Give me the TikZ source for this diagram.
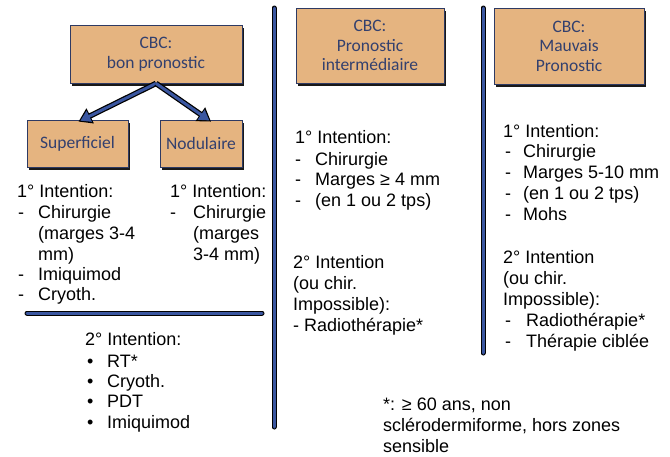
\documentclass[tikz,border=0pt]{standalone}
\usepackage{fontspec}
\setmainfont{Liberation Sans}
\newfontfamily\titlefont{Carlito}
\usetikzlibrary{arrows.meta,shadows}
\definecolor{boxfill}{HTML}{E5B480}
\definecolor{boxline}{HTML}{2E3A63}
\definecolor{titlecol}{HTML}{33406E}
\definecolor{barblue}{HTML}{3A56A0}
\tikzset{
 titlebox/.style={draw=boxline, line width=0.8pt, fill=boxfill, inner sep=0pt, align=center,
   font=\titlefont\fontsize{17.5}{19.5}\selectfont, text=titlecol,
   drop shadow={shadow xshift=2pt, shadow yshift=-2.5pt, fill=black, opacity=0.9}},
 txt/.style={anchor=base west, inner sep=0pt, font=\fontsize{18}{21}\selectfont},
 barout/.style={line width=5pt, black, line cap=round},
 barin/.style={line width=3pt, barblue, line cap=round},
 arrout/.style={line width=5.5pt, black, -{Triangle[length=13pt,width=16pt]}},
 arrin/.style={line width=3pt, barblue, shorten >=2pt, -{Triangle[length=10pt,width=11.5pt]}},
}
\begin{document}
\begin{tikzpicture}[x=1pt,y=-1pt]
\useasboundingbox (0,0) rectangle (670,456);
% boxes
\node[titlebox, minimum width=172pt, minimum height=58pt] (top) at (156,54) {CBC:\\bon pronostic};
\node[titlebox, minimum width=101pt, minimum height=47pt] (sup) at (77.5,143.5) {Superficiel};
\node[titlebox, minimum width=82pt, minimum height=47pt] (nod) at (201,143.5) {Nodulaire};
\node[titlebox, minimum width=148pt, minimum height=75pt] (mid) at (370,45.5) {CBC:\\Pronostic\\intermédiaire};
\node[titlebox, minimum width=150pt, minimum height=76pt] (bad) at (569,46) {CBC:\\Mauvais\\Pronostic};
% arrows
\draw[arrout] (top.south) -- ([xshift=1pt,yshift=-2pt]sup.north);
\draw[arrin] (top.south) -- ([xshift=1pt,yshift=-2pt]sup.north);
\draw[arrout] (top.south) -- ([xshift=10pt,yshift=-2pt]nod.north);
\draw[arrin] (top.south) -- ([xshift=10pt,yshift=-2pt]nod.north);
% separators
\coordinate (h1) at (27,313); \coordinate (h2) at (262,313);
\coordinate (v1a) at (274,8); \coordinate (v1b) at (274,427);
\coordinate (v2a) at (483,8); \coordinate (v2b) at (483,353);
\draw[barout] (h1) -- (h2); \draw[barin] (h1) -- (h2);
\draw[barout] (v1a) -- (v1b); \draw[barin] (v1a) -- (v1b);
\draw[barout] (v2a) -- (v2b); \draw[barin] (v2a) -- (v2b);
% left column
\node[txt] (a1) at (17,197) {1° Intention:};
\node[txt] (a2d) at (18,218) {-}; \node[txt] (a2) at (38,218) {Chirurgie};
\node[txt] (a3) at (38,239) {(marges 3-4};
\node[txt] (a4) at (38,260) {mm)};
\node[txt] (a5d) at (18,280) {-}; \node[txt] (a5) at (38,280) {Imiquimod};
\node[txt] (a6d) at (18,300) {-}; \node[txt] (a6) at (38,300) {Cryoth.};
% nodulaire column
\node[txt] (b1) at (170,197) {1° Intention:};
\node[txt] (b2d) at (170,218) {-}; \node[txt] (b2) at (193,218) {Chirurgie};
\node[txt] (b3) at (193,239) {(marges};
\node[txt] (b4) at (193,260) {3-4 mm)};
% second intention left
\node[txt] (c1) at (85,345) {2° Intention:};
\node[txt] (c2d) at (87,367) {•}; \node[txt] (c2) at (107,367) {RT*};
\node[txt] (c3d) at (87,387) {•}; \node[txt] (c3) at (107,387) {Cryoth.};
\node[txt] (c4d) at (87,407) {•}; \node[txt] (c4) at (107,407) {PDT};
\node[txt] (c5d) at (87,428) {•}; \node[txt] (c5) at (107,428) {Imiquimod};
% middle column
\node[txt] (d1) at (295,143) {1° Intention:};
\node[txt] (d2d) at (295,165) {-}; \node[txt] (d2) at (315,165) {Chirurgie};
\node[txt] (d3d) at (295,185) {-}; \node[txt] (d3) at (315,185) {Marges ≥ 4 mm};
\node[txt] (d4d) at (295,206) {-}; \node[txt] (d4) at (315,206) {(en 1 ou 2 tps)};
\node[txt] (d5) at (293,268) {2° Intention};
\node[txt] (d6) at (293,289) {(ou chir.};
\node[txt] (d7) at (293,310) {Impossible):};
\node[txt] (d8) at (293,331) {- Radiothérapie*};
% right column
\node[txt] (e1) at (503,137) {1° Intention:};
\node[txt] (e2d) at (505,157) {-}; \node[txt] (e2) at (523,157) {Chirurgie};
\node[txt] (e3d) at (505,178) {-}; \node[txt] (e3) at (523,178) {Marges 5-10 mm};
\node[txt] (e4d) at (505,199) {-}; \node[txt] (e4) at (523,199) {(en 1 ou 2 tps)};
\node[txt] (e5d) at (505,220) {-}; \node[txt] (e5) at (523,220) {Mohs};
\node[txt] (e6) at (503,263) {2° Intention};
\node[txt] (e7) at (503,284) {(ou chir.};
\node[txt] (e8) at (503,305) {Impossible):};
\node[txt] (e9d) at (505,326) {-}; \node[txt] (e9) at (526,326) {Radiothérapie*};
\node[txt] (e10d) at (505,347) {-}; \node[txt] (e10) at (526,347) {Thérapie ciblée};
% footnote
\node[txt] (f1) at (383,410) {*: ≥ 60 ans, non};
\node[txt] (f2) at (383,431) {sclérodermiforme, hors zones};
\node[txt] (f3) at (383,452) {sensible};
\end{tikzpicture}
\end{document}
